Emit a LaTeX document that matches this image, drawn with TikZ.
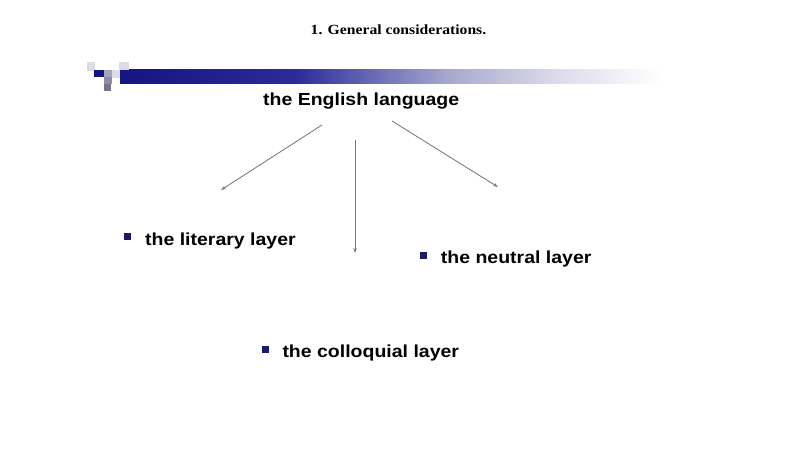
\documentclass[tikz,border=0pt]{standalone}
\usepackage{fontspec}
\usetikzlibrary{arrows.meta}
\newfontfamily\hsans[FakeStretch=1.12]{Liberation Sans}
\newfontfamily\tserif[FakeStretch=1.12]{Liberation Serif}
\definecolor{navyA}{HTML}{141482}
\definecolor{navyB}{HTML}{2A2A9A}
\definecolor{lavA}{HTML}{A9A9CF}
\definecolor{lavB}{HTML}{DCDCEC}
\definecolor{sqlight}{HTML}{DCDCE8}
\definecolor{sqmid}{HTML}{A4A4C4}
\definecolor{sqgrey}{HTML}{8C8CA4}
\definecolor{sqdark}{HTML}{74748C}
\definecolor{bulletc}{HTML}{1A1A66}
\definecolor{arrowc}{HTML}{7A7A7A}
\pgfdeclarehorizontalshading{barshade}{100bp}{color(0bp)=(navyA); color(25bp)=(navyA); color(41bp)=(navyB); color(55.5bp)=(lavA); color(65.5bp)=(lavB); color(75bp)=(white); color(100bp)=(white)}
\tikzset{
  label/.style={anchor=base west, inner sep=0pt, font=\hsans\bfseries\fontsize{17.4}{20}\selectfont},
  bulletsq/.style={fill=bulletc, draw=none},
  connector/.style={draw=arrowc, line width=0.85pt, -{Stealth[length=5pt,width=3.6pt]}},
}
\begin{document}
\begin{tikzpicture}[x=1pt,y=-1pt]
\useasboundingbox (0,0) rectangle (800,449);
\fill[white] (0,0) rectangle (800,449);
% title
\node[anchor=base, inner sep=0pt, font=\tserif\bfseries\fontsize{14}{16}\selectfont] (title) at (398.5,34.3) {1. General considerations.};
% decorative bar
\shade[shading=barshade] (120,70) rectangle (662,83.5);
\fill[sqlight] (87,62) rectangle (95,71);
\fill[sqlight] (119,62) rectangle (129,70);
\fill[sqmid] (104,70) rectangle (112,78);
\fill[navyA] (94,70) rectangle (104,77);
\fill[sqlight] (112,70) rectangle (120,78);
\fill[sqgrey] (104,77) rectangle (112,84);
\fill[sqdark] (104,84) rectangle (111,91);
% texts
\node[label] (eng) at (263,105.7) {the English language};
\node[label] (lit) at (145,245) {the literary layer};
\node[label] (neu) at (440.7,263.3) {the neutral layer};
\node[label] (col) at (282.3,357.7) {the colloquial layer};
% bullets
\fill[bulletsq] (123.5,232.5) rectangle (130.5,239.5);
\fill[bulletsq] (419.5,251.5) rectangle (426.5,258.5);
\fill[bulletsq] (261.8,345.8) rectangle (268.6,352.6);
% connectors
\coordinate (aL1) at (322,125);
\coordinate (aL2) at (221,190);
\coordinate (aM1) at (355,140);
\coordinate (aM2) at (355,253);
\coordinate (aR1) at (392,121);
\coordinate (aR2) at (498,187);
\draw[connector] (aL1) -- (aL2);
\draw[connector] (aM1) -- (aM2);
\draw[connector] (aR1) -- (aR2);
\end{tikzpicture}
\end{document}
